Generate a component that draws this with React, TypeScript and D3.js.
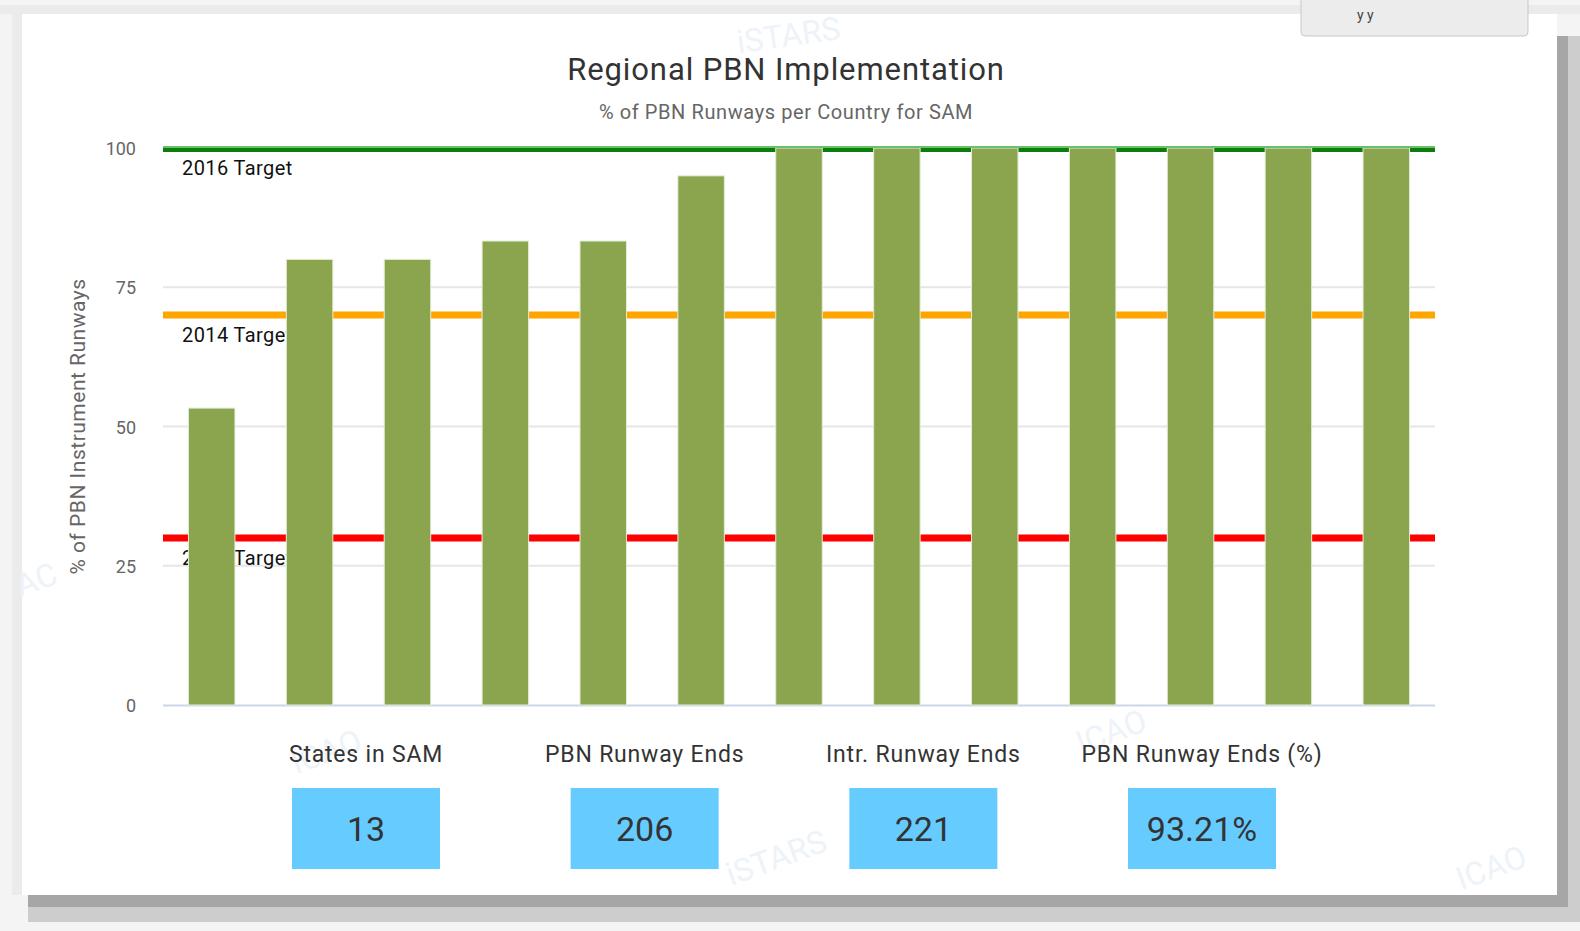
import { useEffect, useRef } from 'react';
import * as d3 from 'd3';

// values (% of PBN runway ends per state)
const states = ['S1', 'S2', 'S3', 'S4', 'S5', 'S6', 'S7', 'S8', 'S9', 'S10', 'S11', 'S12', 'S13'];
const pbnPercent = [53.3, 80, 80, 83.3, 83.3, 95, 100, 100, 100, 100, 100, 100, 100];
const yTicks = [0, 25, 50, 75, 100];

const targetLabels = ['2016 Target', '2014 Target', '2010 Target'];
const targetValues = [100, 70, 30];
const targetColors = ['#0a7d0a', '#ffa500', '#ff0000'];

const statLabels = ['States in SAM', 'PBN Runway Ends', 'Intr. Runway Ends', 'PBN Runway Ends (%)'];
const statValues = ['13', '206', '221', '93.21%'];

const W = 1580;
const H = 931;
const FONT = 'Roboto, "Noto Sans", sans-serif';

const App = () => {
    const svgRef = useRef<SVGSVGElement>(null);

    useEffect(() => {
        const svg = d3.select(svgRef.current);
        svg.selectAll('*').remove();

        // page + card shadow
        svg.append('rect').attr('width', W).attr('height', H).attr('fill', '#f4f4f4');
        svg.append('rect').attr('x', 28).attr('y', 895).attr('width', 1552).attr('height', 12).attr('fill', '#a6a6a6');
        svg.append('rect').attr('x', 28).attr('y', 907).attr('width', 1552).attr('height', 15).attr('fill', '#cdcdcd');
        svg.append('rect').attr('x', 1557).attr('y', 36).attr('width', 11).attr('height', 871).attr('fill', '#a6a6a6');
        svg.append('rect').attr('x', 1568).attr('y', 36).attr('width', 12).attr('height', 871).attr('fill', '#cdcdcd');
        svg.append('rect').attr('x', 0).attr('y', 5).attr('width', W).attr('height', 9).attr('fill', '#ebebeb');
        svg.append('rect').attr('x', 12).attr('y', 14).attr('width', 10).attr('height', 881).attr('fill', '#ebebeb');
        svg.append('rect').attr('x', 22).attr('y', 14).attr('width', 1535).attr('height', 881).attr('fill', '#ffffff');

        // top-right button peeking in
        svg.append('rect').attr('x', 1301).attr('y', -6).attr('width', 227).attr('height', 42)
            .attr('rx', 4).attr('fill', '#ececec').attr('stroke', '#c8c8c8');
        svg.append('text').attr('x', 1357).attr('y', 20).attr('font-family', FONT).attr('font-size', 14)
            .attr('fill', '#444').text('y y');

        // faint watermarks
        const marks: [string, number, number, number][] = [
            ['iSTARS', 780, 868, -20], ['ICAO', 1495, 878, -20], ['ICAO', 330, 762, -20],
            ['ICAO', 1115, 742, -20], ['iSTARS', 790, 46, -8], ['AC', 40, 590, -20]
        ];
        svg.append('g').selectAll('text').data(marks).enter().append('text')
            .attr('transform', d => `translate(${d[1]},${d[2]}) rotate(${d[3]})`)
            .attr('text-anchor', 'middle').attr('font-family', FONT).attr('font-size', 32)
            .attr('fill', '#edf3f9').text(d => d[0]);

        const left = 163, right = 1435, top = 148, bottom = 705;

        const x = d3.scaleBand().domain(states).range([left, right]).paddingInner(0.525).paddingOuter(0.26);
        const y = d3.scaleLinear().domain([0, 100]).range([bottom, top]);

        // title
        svg.append('text').attr('x', 786).attr('y', 80).attr('text-anchor', 'middle')
            .attr('font-family', FONT).attr('font-size', 31).attr('letter-spacing', 0.9)
            .attr('fill', '#333333').text('Regional PBN Implementation');
        svg.append('text').attr('x', 786).attr('y', 119).attr('text-anchor', 'middle')
            .attr('font-family', FONT).attr('font-size', 20).attr('letter-spacing', 0.6)
            .attr('fill', '#666666').text('% of PBN Runways per Country for SAM');

        // grid
        svg.append('g').selectAll('line').data(yTicks.filter(t => t > 0 && t < 100)).enter().append('line')
            .attr('x1', left).attr('x2', right).attr('y1', d => y(d)).attr('y2', d => y(d))
            .attr('stroke', '#e6e6e6').attr('stroke-width', 2);
        svg.append('line').attr('x1', left).attr('x2', right).attr('y1', y(0) + 0.5).attr('y2', y(0) + 0.5)
            .attr('stroke', '#ccd6eb').attr('stroke-width', 2);

        // y axis labels
        svg.append('g').selectAll('text').data(yTicks).enter().append('text')
            .attr('x', 136).attr('y', d => y(d) + 7).attr('text-anchor', 'end')
            .attr('font-family', FONT).attr('font-size', 18).attr('fill', '#666666')
            .text(d => d);
        svg.append('text').attr('transform', `translate(85,${(top + bottom) / 2}) rotate(-90)`)
            .attr('text-anchor', 'middle').attr('font-family', FONT).attr('font-size', 21)
            .attr('letter-spacing', 0.5).attr('fill', '#666666').text('% of PBN Instrument Runways');

        // target plot lines + labels (behind bars)
        const targets = targetValues.map((v, i) => ({ v, label: targetLabels[i], color: targetColors[i] }));
        svg.append('g').selectAll('line').data(targets).enter().append('line')
            .attr('x1', left).attr('x2', right)
            .attr('y1', d => y(d.v) + (d.v === 100 ? 2 : 0)).attr('y2', d => y(d.v) + (d.v === 100 ? 2 : 0))
            .attr('stroke', d => d.color).attr('stroke-width', d => (d.v === 100 ? 4 : 7));
        svg.append('g').selectAll('text').data(targets).enter().append('text')
            .attr('x', 182).attr('y', d => y(d.v) + 27)
            .attr('font-family', FONT).attr('font-size', 20).attr('letter-spacing', 0.4)
            .attr('fill', '#111111').text(d => d.label);

        // bars
        svg.append('g').selectAll('rect').data(pbnPercent).enter().append('rect')
            .attr('x', (_, i) => x(states[i]) as number)
            .attr('y', d => y(d))
            .attr('width', x.bandwidth())
            .attr('height', d => bottom - y(d))
            .attr('fill', '#8aa54e').attr('stroke', '#e3ecd8').attr('stroke-width', 1);

        // light top edge of the 100% line drawn over the bars
        svg.append('line').attr('x1', left).attr('x2', right).attr('y1', y(100) - 1).attr('y2', y(100) - 1)
            .attr('stroke', '#6bbf6b').attr('stroke-width', 2);

        // stat boxes
        const sx = d3.scalePoint().domain(statLabels).range([366, 1202]);
        const stats = svg.append('g').selectAll('g').data(statLabels).enter().append('g')
            .attr('transform', d => `translate(${sx(d)},0)`);
        stats.append('text').attr('y', 762).attr('text-anchor', 'middle')
            .attr('font-family', FONT).attr('font-size', 23).attr('letter-spacing', 0.8)
            .attr('fill', '#333333').text(d => d);
        stats.append('rect').attr('x', -74).attr('y', 788).attr('width', 148).attr('height', 81)
            .attr('fill', '#66ccff');
        stats.append('text').attr('y', 841).attr('text-anchor', 'middle')
            .attr('font-family', FONT).attr('font-size', 34).attr('fill', '#333333')
            .text((_, i) => statValues[i]);
    }, []);

    return (
        <svg ref={svgRef} width={W} height={H}
            style={{ position: 'absolute', left: 0, top: 0, display: 'block' }} />
    );
};

export default App;
